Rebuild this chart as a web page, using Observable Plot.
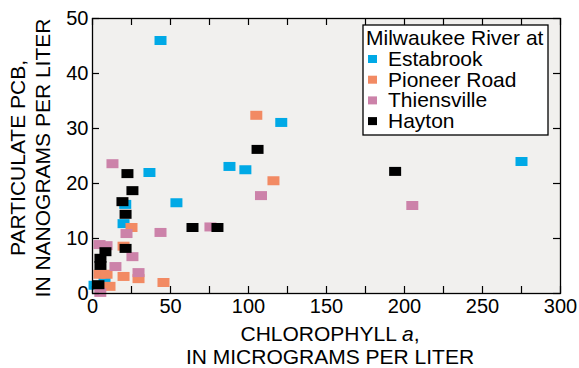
<!DOCTYPE html>
<html><head><meta charset="utf-8">
<script src="https://cdn.jsdelivr.net/npm/d3@7"></script>
<script src="https://cdn.jsdelivr.net/npm/@observablehq/plot@0.6"></script>
<style>
body{margin:0;background:#fff;}
#chart{position:relative;width:579px;height:368px;}
svg{display:block;}
</style></head><body><div id="chart"></div>
<script>
// ---- data ----
const sites = ["Estabrook", "Pioneer Road", "Thiensville", "Hayton"];
const siteColors = ["#00a9e6", "#f28a63", "#cc82a9", "#000000"];
const legendTitle = "Milwaukee River at";

const estabrookChl = [43.6, 121, 275, 87.8, 98, 36.5, 53.8, 21, 19.9, 1.3, 7.7];
const estabrookPcb = [46.0, 31.1, 24.0, 23.1, 22.5, 22.0, 16.5, 16.2, 12.7, 1.5, 2.4];

const pioneerChl = [105, 116, 25, 19.9, 4.5, 9, 19.9, 29.5, 10.9, 45.5];
const pioneerPcb = [32.4, 20.5, 12.0, 8.6, 3.5, 3.5, 3.1, 2.7, 1.3, 2.0];

const thiensvilleChl = [12.8, 108, 205, 75.6, 43.6, 21.8, 4.5, 9, 25.6, 14.7, 29.5, 5];
const thiensvillePcb = [23.6, 17.8, 16.0, 12.1, 11.1, 10.9, 8.9, 8.7, 6.7, 4.9, 3.8, 0.2];

const haytonChl = [105.8, 194, 22.4, 25.6, 19.2, 21.2, 64.1, 80.1, 21.2, 8.3, 5.1, 5.1, 3.8];
const haytonPcb = [26.2, 22.2, 21.8, 18.7, 16.7, 14.4, 12.0, 12.0, 8.2, 7.6, 6.4, 5.1, 1.6];

const xTickLabels = [0, 50, 100, 150, 200, 250, 300];
const xTickMarks = [0, 25, 50, 75, 100, 125, 150, 175, 200, 225, 250, 275, 300];
const yTickLabels = [0, 10, 20, 30, 40, 50];

const xTitle1 = "CHLOROPHYLL ", xTitleItalic = "a", xTitle1End = ",";
const xTitle2 = "IN MICROGRAMS PER LITER";
const yTitle1 = "PARTICULATE PCB,";
const yTitle2 = "IN NANOGRAMS PER LITER";

// ---- build table ----
const seriesChl = [estabrookChl, pioneerChl, thiensvilleChl, haytonChl];
const seriesPcb = [estabrookPcb, pioneerPcb, thiensvillePcb, haytonPcb];
const data = [];
sites.forEach((s, i) => seriesChl[i].forEach((c, j) => data.push({site: s, chl: c, pcb: seriesPcb[i][j]})));

// ---- layout ----
const W = 579, H = 368, mL = 92, mR = 19, mT = 18, mB = 75;
const innerW = W - mL - mR, innerH = H - mT - mB;
const tickLen = 7;
const font = "'Liberation Sans', Arial, Helvetica, sans-serif";
const rectSymbol = {draw(ctx) { ctx.rect(-6, -4.5, 12, 9); }};

const plot = Plot.plot({
  width: W, height: H,
  marginLeft: mL, marginRight: mR, marginTop: mT, marginBottom: mB,
  style: {fontFamily: font, fontSize: "20px", background: "white", color: "black", overflow: "visible"},
  x: {domain: [0, 300], label: null},
  y: {domain: [0, 50], label: null},
  color: {domain: sites, range: siteColors},
  marks: [
    Plot.frame({fill: "#f1f0ee", stroke: null}),
    Plot.dot(data, {x: "chl", y: "pcb", fill: "site", symbol: rectSymbol, r: 5}),
    Plot.tickX(xTickMarks, {x: d => d, stroke: "black", strokeWidth: 1.2, insetTop: innerH - tickLen}),
    Plot.tickX(xTickMarks, {x: d => d, stroke: "black", strokeWidth: 1.2, insetBottom: innerH - tickLen}),
    Plot.tickY(yTickLabels, {y: d => d, stroke: "black", strokeWidth: 1.2, insetRight: innerW - tickLen}),
    Plot.tickY(yTickLabels, {y: d => d, stroke: "black", strokeWidth: 1.2, insetLeft: innerW - tickLen}),
    Plot.axisX({ticks: xTickLabels, tickSize: 0, tickPadding: 5, fontSize: 20, label: null}),
    Plot.axisY({ticks: yTickLabels, tickSize: 0, tickPadding: 4, fontSize: 20, label: null}),
    Plot.frame({stroke: "black", strokeWidth: 1.3})
  ]
});
document.getElementById("chart").appendChild(plot);

// ---- titles and legend ----
const svg = d3.select(plot);
const g = svg.append("g").attr("font-family", font).attr("fill", "black");
const xt = g.append("text").attr("x", 330).attr("y", 341).attr("text-anchor", "middle").attr("font-size", 21);
xt.append("tspan").text(xTitle1);
xt.append("tspan").attr("font-style", "italic").text(xTitleItalic);
xt.append("tspan").text(xTitle1End);
g.append("text").attr("x", 330).attr("y", 364).attr("text-anchor", "middle").attr("font-size", 21).text(xTitle2);

const yt = g.append("g").attr("transform", "translate(0,158) rotate(-90)");
yt.append("text").attr("x", 0).attr("y", 25).attr("text-anchor", "middle").attr("font-size", 21).text(yTitle1);
yt.append("text").attr("x", 0).attr("y", 50).attr("text-anchor", "middle").attr("font-size", 21).text(yTitle2);

const lg = g.append("g").attr("text-anchor", "start");
lg.append("rect").attr("x", 363).attr("y", 25).attr("width", 185).attr("height", 110)
  .attr("fill", "white").attr("stroke", "black").attr("stroke-width", 1.3);
lg.append("text").attr("x", 366).attr("y", 45).attr("text-anchor", "start").attr("font-size", 21).text(legendTitle);
sites.forEach((s, i) => {
  const yb = 66 + i * 20.7;
  lg.append("rect").attr("x", 368).attr("y", yb - 11).attr("width", 9).attr("height", 8).attr("fill", siteColors[i]);
  lg.append("text").attr("x", 388).attr("y", yb).attr("text-anchor", "start").attr("font-size", 21).text(s);
});
</script></body></html>
